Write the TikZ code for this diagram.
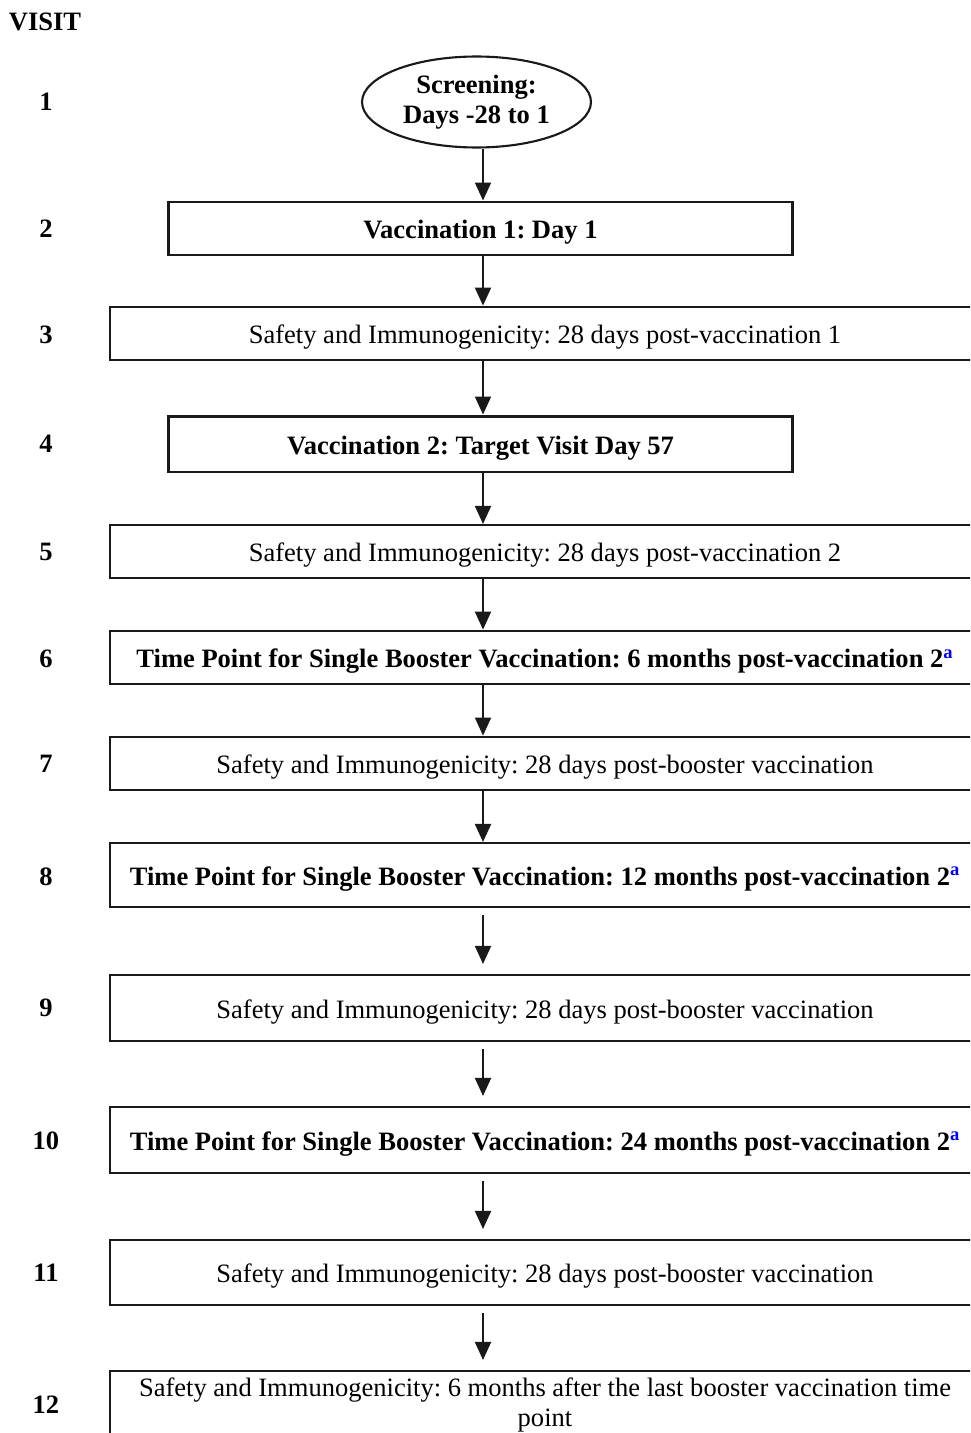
\documentclass[tikz,border=0pt]{standalone}
\usepackage{fontspec}
\setmainfont{Liberation Serif}
\usepackage{xcolor}
\usepackage{tikz}
\usetikzlibrary{arrows.meta,shapes.geometric}
\frenchspacing
\tikzset{
txt/.style = {font=\fontsize{15.1}{17}\selectfont},
num/.style = {txt, font=\fontsize{15.1}{17}\selectfont\bfseries, inner sep=0pt},
oneline/.style = {text height=0.5cm, text depth=0.1cm},
vacbox/.style = {rectangle, draw=black!90, line width=1.7pt, txt, oneline, font=\fontsize{15.1}{17}\selectfont\bfseries,
                 minimum width=12.5cm, minimum height=#1},
vacbox/.default = 1.06cm,
tallbox/.style = {rectangle, draw=black!90, line width=1.2pt, txt, align=center,
                  minimum width=17.4cm, minimum height=#1},
tallbox/.default = 1.36cm,
widebox/.style = {tallbox=#1, oneline},
widebox/.default = 1.06cm, % height of the box
flow/.style = {-{Triangle[length=0.36cm, width=0.32cm]}, draw=black!90, line width=1.1pt}
}
\newcommand{\supa}{\textsuperscript{\color{blue}a}}

\begin{document}
\begin{tikzpicture}[x=0.02cm, y=-0.02cm]
    \clip (0,0) rectangle (970,1433);
    \node[num] (visit) at (45,22) {VISIT};
    \foreach \n/\y in {1/102, 2/229, 3/335, 4/444, 5/552, 6/659, 7/764, 8/877, 9/1008, 10/1141, 11/1273, 12/1405}
        \node[num] (v\n) at (46,\y) {\n};

    \node[ellipse, draw=black!90, line width=1.2pt, minimum width=4.58cm, minimum height=1.82cm,
          inner sep=0pt, align=center, num] (scr) at (476.5,102) {Screening:\\Days -28 to 1};
    \node[vacbox] (vac1) at (480.5,228.5) {Vaccination 1: Day 1};
    \node[widebox, line width=1.6pt] (saf1) at (545,333.5) {Safety and Immunogenicity: 28 days post-vaccination 1};
    \node[vacbox=1.12cm] (vac2) at (480.5,444) {Vaccination 2: Target Visit Day 57};
    \node[widebox] (saf2) at (545,551.5) {Safety and Immunogenicity: 28 days post-vaccination 2};
    \node[widebox, line width=1.6pt, font=\fontsize{15.1}{17}\selectfont\bfseries] (boost1) at (545,657.5)
        {Time Point for Single Booster Vaccination: 6 months post-vaccination 2\supa};
    \node[widebox, line width=1.6pt] (saf3) at (545,763.5) {Safety and Immunogenicity: 28 days post-booster vaccination};
    \node[widebox=1.28cm, font=\fontsize{15.1}{17}\selectfont\bfseries] (boost2) at (545,875)
        {Time Point for Single Booster Vaccination: 12 months post-vaccination 2\supa};
    \node[widebox=1.32cm] (saf4) at (545,1008) {Safety and Immunogenicity: 28 days post-booster vaccination};
    \node[widebox=1.32cm, font=\fontsize{15.1}{17}\selectfont\bfseries] (boost3) at (545,1140)
        {Time Point for Single Booster Vaccination: 24 months post-vaccination 2\supa};
    \node[widebox=1.3cm] (saf5) at (545,1272.5) {Safety and Immunogenicity: 28 days post-booster vaccination};
    \node[tallbox] (last) at (545,1405)
        {Safety and Immunogenicity: 6 months after the last booster vaccination time\\point};

    \coordinate (axis) at (483,0);
    % arrows touching the boxes
    \foreach \a/\b in {scr/vac1, vac1/saf1, saf1/vac2, vac2/saf2, saf2/boost1, boost1/saf3, saf3/boost2}
        \draw[flow] (axis |- \a.south) -- (axis |- \b.north);
    % arrows with a gap
    \foreach \a/\b in {boost2/saf4, saf4/boost3, boost3/saf5, saf5/last}
        \draw[flow, shorten <=0.14cm, shorten >=0.2cm] (axis |- \a.south) -- (axis |- \b.north);
\end{tikzpicture}
\end{document}
